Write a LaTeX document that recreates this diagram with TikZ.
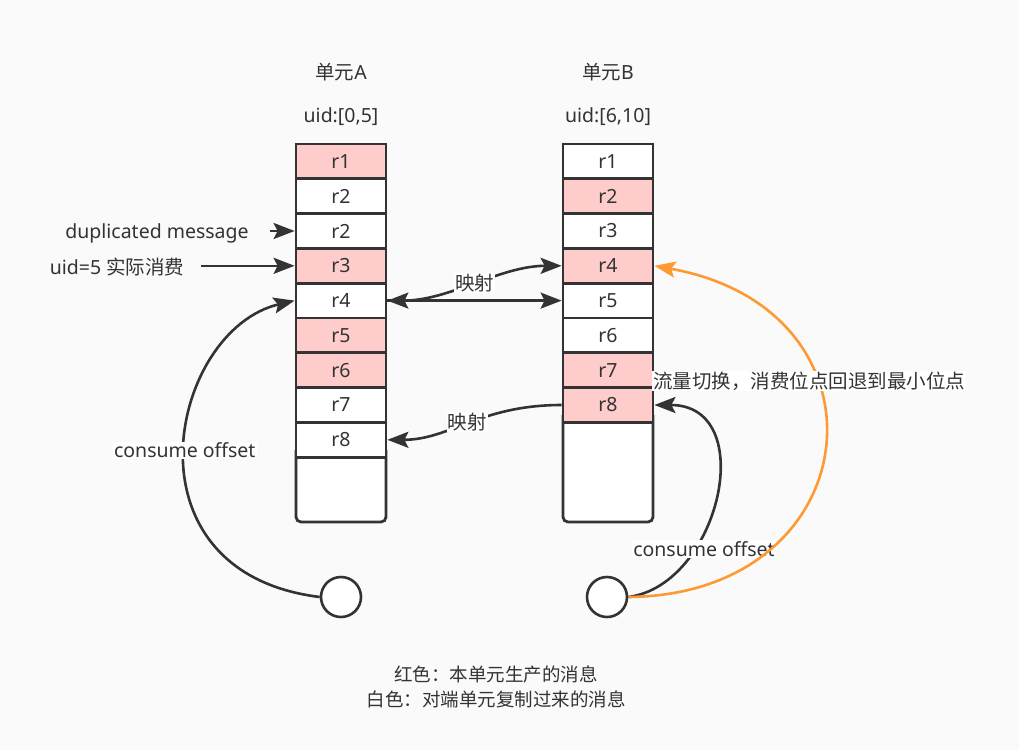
\documentclass[tikz,border=0pt]{standalone}
\usepackage{fontspec}
\setmainfont{Noto Sans}
\newfontfamily\cjk{Noto Sans CJK SC}
\usetikzlibrary{arrows.meta}
\definecolor{bgc}{HTML}{FAFAFA}
\definecolor{ink}{HTML}{333333}
\definecolor{own}{HTML}{FFCCCC}
\definecolor{switch}{HTML}{FF9933}
\tikzset{every node/.style={font=\fontsize{19.5}{23}\selectfont,text=ink},
  >={Stealth[length=21pt,width=16pt,inset=4pt]},
  cell/.style={draw=ink,line width=2.8pt,fill=white,minimum width=90pt,minimum height=34.8pt,inner sep=0pt},
  owncell/.style={cell,fill=own},
  link/.style={draw=ink,line width=2.6pt,->},
  lbl/.style={fill=white,inner sep=1pt},
  legend/.style={font=\cjk\fontsize{18.5}{22}\selectfont},
  offset/.style={circle,draw=ink,line width=2.6pt,fill=white,minimum size=40pt,inner sep=0pt}}
\newcommand{\msgcell}[4][]{\node[cell,#1] at (#2) (#3) {#4}}

\begin{document}
\begin{tikzpicture}[x=1pt,y=-1pt]
  \fill[bgc] (0,0) rectangle (1019,750);
  \useasboundingbox (0,0) rectangle (1019,750);

  % unit A
  \node (titlea) at (341,72) {{\cjk 单元}A};
  \node (rangea) at (341,117) {uid:[0,5]};
  \draw[draw=ink,fill=white,line width=2.8pt,rounded corners=5pt]
        (296,450) -- (296,522) -- (386,522) -- (386,450);
  \msgcell[owncell]{341,161.4}{a1}{r1};
  \msgcell{341,196.2}{a2}{r2};
  \msgcell{341,231}{a3}{r2};
  \msgcell[owncell]{341,265.8}{a4}{r3};
  \msgcell{341,300.6}{a5}{r4};
  \msgcell[owncell]{341,335.4}{a6}{r5};
  \msgcell[owncell]{341,370.2}{a7}{r6};
  \msgcell{341,405}{a8}{r7};
  \msgcell{341,439.8}{a9}{r8};
  \node[offset] (ca) at (341,597) {};

  % unit B
  \node (titleb) at (608,72) {{\cjk 单元}B};
  \node (rangeb) at (608,117) {uid:[6,10]};
  \draw[draw=ink,fill=white,line width=2.8pt,rounded corners=5pt]
        (563,415) -- (563,522) -- (653,522) -- (653,415);
  \msgcell{608,161.4}{b1}{r1};
  \msgcell[owncell]{608,196.2}{b2}{r2};
  \msgcell{608,231}{b3}{r3};
  \msgcell[owncell]{608,265.8}{b4}{r4};
  \msgcell{608,300.6}{b5}{r5};
  \msgcell{608,335.4}{b6}{r6};
  \msgcell[owncell]{608,370.2}{b7}{r7};
  \msgcell[owncell]{608,405}{b8}{r8};
  \node[offset] (cb) at (607,597) {};

  % left notes
  \node (dup) at (157,233) {duplicated message};
  \node (real) at (117,266.8) {uid=5 {\cjk 实际消费}};
  \draw[link,shorten <=18pt] (dup.east |- a3.west) -- (a3.west);
  \draw[link,shorten <=13pt] (real.east |- a4.west) -- (a4.west);

  % mapping
  \draw[link,<->] (b4.west) .. controls (500,265.8) and (450,300.6) .. node[lbl] {\cjk 映射} (a5.east);
  \draw[link] (a5.east) -- (b5.west);
  \draw[link] (b8.west) .. controls (480,405) and (450,439.8) .. node[lbl] {\cjk 映射} (a9.east);

  % offsets
  \draw[link] (ca.west) .. controls (118,572) and (170,330) .. node[lbl] {consume offset} (a5.west);
  \draw[link] (cb.east) .. controls (720,585) and (760,405) .. (b8.east);
  \node[lbl] (cbl) at (704,549) {consume offset};
  \draw[link,draw=switch] (cb.east) .. controls (870,595) and (900,310) .. (b4.east);
  \node[lbl] (swl) at (809,381) {\cjk 流量切换，消费位点回退到最小位点};

  % legend
  \node[legend] (red) at (496,674) {红色：本单元生产的消息};
  \node[legend] (white) at (496,699) {白色：对端单元复制过来的消息};
\end{tikzpicture}
\end{document}
